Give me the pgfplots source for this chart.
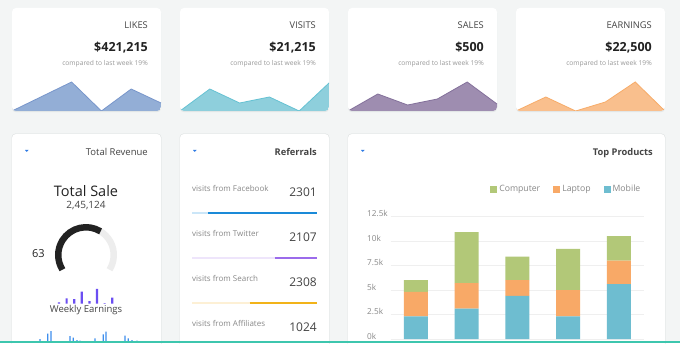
\documentclass[border=0pt]{standalone}
\usepackage{fontspec}
\setmainfont{Open Sans}
\usepackage{pgfplots}
\pgfplotsset{compat=1.18}

\definecolor{bg}{HTML}{F3F5F5}
\definecolor{shadow}{HTML}{E2E6E6}
\definecolor{likesFill}{HTML}{93AED6}
\definecolor{likesLine}{HTML}{7896CB}
\definecolor{visitsFill}{HTML}{8ECFDC}
\definecolor{visitsLine}{HTML}{66C2D3}
\definecolor{salesFill}{HTML}{9E8DB0}
\definecolor{salesLine}{HTML}{84719B}
\definecolor{earnFill}{HTML}{F9BF8D}
\definecolor{earnLine}{HTML}{F7AC69}
\definecolor{comp}{HTML}{B2C878}
\definecolor{lap}{HTML}{F8A967}
\definecolor{mob}{HTML}{6EBDD0}
\definecolor{weekly}{HTML}{6B4EF2}
\definecolor{bluebar}{HTML}{3E8EED}
\definecolor{teal}{HTML}{3DC6AE}
\definecolor{caret}{HTML}{2F7BE5}
\definecolor{txtdark}{HTML}{222222}
\definecolor{txtmid}{HTML}{444444}
\definecolor{txtlight}{HTML}{999999}
\definecolor{txtgray}{HTML}{888888}
\definecolor{gridc}{HTML}{EFEFEF}
\definecolor{gaugegray}{HTML}{EDEDED}
\definecolor{fbLight}{HTML}{CBE6F8}
\definecolor{fbDark}{HTML}{1A8AD8}
\definecolor{twLight}{HTML}{EEE5FB}
\definecolor{twDark}{HTML}{9B6BEB}
\definecolor{seLight}{HTML}{FDF0D5}
\definecolor{seDark}{HTML}{F2B319}

\newcommand{\fs}[1]{\fontsize{#1}{#1}\selectfont}

\pgfplotsset{
  spark/.style={hide axis, scale only axis, width=149pt, height=30pt,
    xmin=0, xmax=5, ymin=0, ymax=30, anchor=south west, clip=false},
}

\begin{document}
\begin{tikzpicture}[x=1pt,y=1pt]
\useasboundingbox (0,0) rectangle (680,343);
\clip (0,0) rectangle (680,343);
\fill[bg] (0,0) rectangle (680,343);

% ---------- top cards ----------
\foreach \x in {12,180,348,516} {
  \fill[shadow, rounded corners=4pt] (\x,230.8) rectangle ++(149,103);
  \fill[white, rounded corners=4pt] (\x,232) rectangle ++(149,103);
}
% ---------- bottom cards ----------
\fill[shadow, rounded corners=4pt] (11.5,-10) rectangle (161.5,209.5);
\fill[white, rounded corners=4pt] (12,-10) rectangle (161,209);
\fill[shadow, rounded corners=4pt] (179.5,-10) rectangle (329.5,209.5);
\fill[white, rounded corners=4pt] (180,-10) rectangle (329,209);
\fill[shadow, rounded corners=4pt] (347.5,-10) rectangle (665.5,209.5);
\fill[white, rounded corners=4pt] (348,-10) rectangle (665,209);

% ---------- top card texts ----------
\foreach \x/\t/\v in {148/LIKES/\$421{,}215, 316/VISITS/\$21{,}215, 484/SALES/\$500, 652/EARNINGS/\$22{,}500} {
  \node[anchor=base east, inner sep=0pt, text=txtmid, font=\fs{9.3}] at (\x,314) {\t};
  \node[anchor=base east, inner sep=0pt, text=txtdark, font=\fs{12.5}\bfseries] at (\x,291) {\v};
  \node[anchor=base east, inner sep=0pt, text=txtlight, font=\fs{6.7}] at (\x,277.5) {compared to last week 19\%};
}

% ---------- sparkline areas ----------
\begin{scope}
\clip[rounded corners=4pt] (12,232) rectangle ++(149,103);
\begin{axis}[spark, at={(12pt,232pt)}]
\addplot[fill=likesFill, draw=none] coordinates {(0,0) (1,14.5) (2,29) (3,0) (4,22) (5,8)} \closedcycle;
\addplot[likesLine, line width=0.8pt] coordinates {(0,0) (1,14.5) (2,29) (3,0) (4,22) (5,8)};
\end{axis}
\end{scope}
\begin{scope}
\clip[rounded corners=4pt] (180,232) rectangle ++(149,103);
\begin{axis}[spark, at={(180pt,232pt)}]
\addplot[fill=visitsFill, draw=none] coordinates {(0,0) (1,22) (2,8) (3,14) (4,0) (5,28)} \closedcycle;
\addplot[visitsLine, line width=0.8pt] coordinates {(0,0) (1,22) (2,8) (3,14) (4,0) (5,28)};
\end{axis}
\end{scope}
\begin{scope}
\clip[rounded corners=4pt] (348,232) rectangle ++(149,103);
\begin{axis}[spark, at={(348pt,232pt)}]
\addplot[fill=salesFill, draw=none] coordinates {(0,0) (1,17) (2,6) (3,12) (4,29) (5,7)} \closedcycle;
\addplot[salesLine, line width=0.8pt] coordinates {(0,0) (1,17) (2,6) (3,12) (4,29) (5,7)};
\end{axis}
\end{scope}
\begin{scope}
\clip[rounded corners=4pt] (516,232) rectangle ++(149,103);
\begin{axis}[spark, at={(516pt,232pt)}]
\addplot[fill=earnFill, draw=none] coordinates {(0,0) (1,14) (2,0) (3,9) (4,29) (5,0)} \closedcycle;
\addplot[earnLine, line width=0.8pt] coordinates {(0,0) (1,14) (2,0) (3,9) (4,29) (5,0)};
\end{axis}
\end{scope}

% ---------- card headers ----------
\fill[caret] (25,193) -- (28.5,193) -- (26.75,191) -- cycle;
\fill[caret] (193,193) -- (196.5,193) -- (194.75,191) -- cycle;
\fill[caret] (361,193) -- (364.5,193) -- (362.75,191) -- cycle;
\node[anchor=base east, inner sep=0pt, text=txtmid, font=\fs{9.5}] at (148,187.3) {Total Revenue};
\node[anchor=base east, inner sep=0pt, text=txtmid, font=\fs{9.3}\bfseries] at (317,187.3) {Referrals};
\node[anchor=base east, inner sep=0pt, text=txtmid, font=\fs{9.3}\bfseries] at (653,187.3) {Top Products};

% ---------- Total revenue card ----------
\node[anchor=base, inner sep=0pt, text=txtdark, font=\fs{14.5}] at (86,146) {Total Sale};
\node[anchor=base, inner sep=0pt, text=txtmid, font=\fs{10}] at (86,134.5) {2,45,124};
\node[anchor=base west, inner sep=0pt, text=txtdark, font=\fs{11}] at (32,85) {63};
\draw[gaugegray, line width=6.5pt] (86,88) ++(-32:27.75) arc[start angle=-32, end angle=58.3, radius=27.75];
\draw[txtdark, line width=6.5pt] (86,88) ++(58.3:27.75) arc[start angle=58.3, end angle=212, radius=27.75];

\begin{axis}[hide axis, scale only axis, width=60.8pt, height=15pt, at={(55.2pt,39.3pt)}, anchor=south west,
  xmin=-0.5, xmax=7.5, ymin=0, ymax=15, ybar, bar width=2.2pt, clip=false]
\addplot[fill=weekly, draw=none] coordinates {(0,1.3) (1,5.3) (2,4.7) (3,12) (4,2.7) (5,14.7) (6,0.7) (7,6)};
\end{axis}
\node[anchor=base, inner sep=0pt, text=txtmid, font=\fs{9.5}] at (86,30.3) {Weekly Earnings};

\begin{axis}[hide axis, scale only axis, width=110pt, height=12pt, at={(35pt,1.3pt)}, anchor=south west,
  xmin=0, xmax=110, ymin=0, ymax=12, ybar, bar width=1.3pt, clip=false]
\addplot[fill=bluebar, draw=none] coordinates {(5,2.5) (12.7,8) (16,10.7) (35,5.7) (38.3,4) (42,1.5) (45,1) (60,3.3) (68.3,7.3) (71,10) (90,6) (93.3,3.3) (97,1.5) (102,1)};
\end{axis}

% ---------- Referrals card ----------
\foreach \t/\n/\yb in {Facebook/2301/151.3, Twitter/2107/106.3, Search/2308/61.3, Affiliates/1024/16.3} {
  \node[anchor=base west, inner sep=0pt, text=txtgray, font=\fs{8}] at (192,\yb) {visits from \t};
  \node[anchor=base east, inner sep=0pt, text=txtmid, font=\fs{12}] at (317,\yb-5) {\n};
}
\begin{axis}[hide axis, scale only axis, width=125pt, height=90pt, at={(192pt,130pt)}, anchor=north west,
  xmin=0, xmax=100, ymin=0, ymax=2, y dir=reverse, clip=false]
\addplot[fbLight, line width=2.6pt] coordinates {(0,0) (100,0)};
\addplot[fbDark, line width=2.6pt] coordinates {(13,0) (100,0)};
\addplot[twLight, line width=2.6pt] coordinates {(0,1) (100,1)};
\addplot[twDark, line width=2.6pt] coordinates {(66,1) (100,1)};
\addplot[seLight, line width=2.6pt] coordinates {(0,2) (100,2)};
\addplot[seDark, line width=2.6pt] coordinates {(46,2) (100,2)};
\end{axis}

% ---------- Top products ----------
\begin{axis}[at={(390.6pt,4pt)}, anchor=south west, scale only axis,
  width=253.75pt, height=122.5pt,
  ybar stacked, bar width=24pt,
  xmin=-0.5, xmax=4.5, ymin=0, ymax=12.5,
  ytick={0,2.5,5,7.5,10,12.5}, xtick=\empty,
  axis line style={draw=none}, major tick length=0pt,
  ymajorgrids, grid style={gridc, line width=0.6pt},
  /pgf/number format/assume math mode=true,
  yticklabel={\pgfmathprintnumber{\tick}k},
  yticklabel style={anchor=base west, inner sep=0pt, xshift=-23.6pt, text=txtgray, font=\fs{8.2}},
  clip=false,
  reverse legend,
  legend columns=3,
  legend image code/.code={\fill[#1,/tikz/.cd] (0pt,-3.4pt) rectangle (7pt,3.4pt);},
  legend style={at={(0.392,1.222)}, anchor=west, draw=none, fill=none, inner sep=0pt,
    font=\fs{8.7}, text=txtgray,
    /tikz/every even column/.append style={column sep=11pt}},
]
\addplot[fill=mob, draw=none] coordinates {(0,2.3) (1,3.1) (2,4.4) (3,2.3) (4,5.6)};
\addlegendentry{Mobile}
\addplot[fill=lap, draw=none] coordinates {(0,2.5) (1,2.6) (2,1.6) (3,2.7) (4,2.4)};
\addlegendentry{Laptop}
\addplot[fill=comp, draw=none] coordinates {(0,1.2) (1,5.2) (2,2.4) (3,4.2) (4,2.5)};
\addlegendentry{Computer}
\end{axis}

% ---------- bottom teal line ----------
\fill[teal] (0,0) rectangle (680,2);
\end{tikzpicture}
\end{document}
